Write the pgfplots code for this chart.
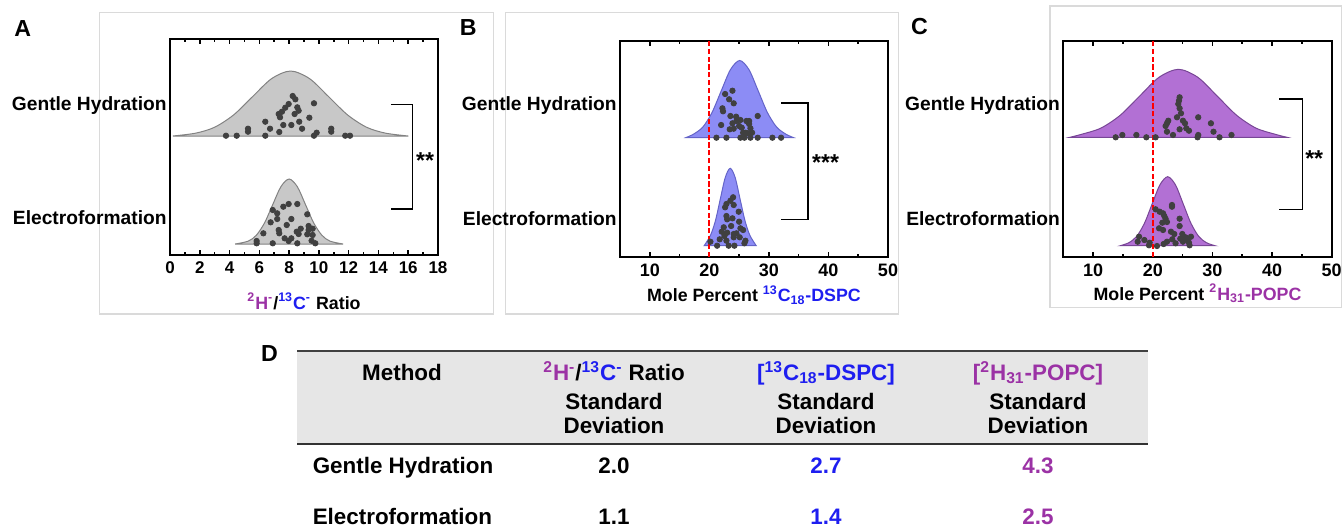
\documentclass[border=0pt]{standalone}
\usepackage{fontspec}
\setmainfont{Liberation Sans}
\usepackage{pgfplots}
\pgfplotsset{compat=1.18}

\definecolor{dotgray}{RGB}{64,64,64}
\definecolor{hpurple}{RGB}{155,50,165}
\definecolor{cblue}{RGB}{30,30,240}
\definecolor{vgray}{RGB}{200,200,200}
\definecolor{vgrayedge}{RGB}{130,130,130}
\definecolor{vblue}{RGB}{140,140,245}
\definecolor{vblueedge}{RGB}{100,100,200}
\definecolor{vpurple}{RGB}{178,112,212}
\definecolor{vpurpleedge}{RGB}{120,70,150}
\definecolor{framegray}{RGB}{218,218,218}
\definecolor{headgray}{RGB}{230,230,230}

\pgfplotsset{
  violinpanel/.style={
    scale only axis, clip=false, anchor=south west,
    ymin=0,
    axis line style={line width=1pt},
    tick style={black, line width=0.8pt},
    major tick length=2.3pt, minor tick length=1.4pt,
    ytick style={draw=none},
    /pgf/number format/assume math mode=true,
    yticklabel style={font=\fontsize{9.6}{11}\selectfont\bfseries, inner sep=1.5pt},
    xticklabel style={font=\fontsize{9}{10}\selectfont\bfseries},
    xlabel style={font=\fontsize{8.9}{10}\selectfont\bfseries,
      at={(axis description cs:0.5,0)}, anchor=center},
  },
  violin/.style={smooth, line width=0.5pt},
  dots/.style={only marks, mark=*, mark size=1.35pt, color=dotgray},
  refline/.style={red, line width=1pt, dash pattern=on 2.6pt off 1.3pt},
}
\tikzset{
  bracket/.style={line width=0.8pt, black},
  stars/.style={font=\fontsize{11.5}{12}\selectfont\bfseries, anchor=base},
  letter/.style={font=\fontsize{11.6}{13}\selectfont\bfseries, anchor=base},
}

\begin{document}
\begin{tikzpicture}
\useasboundingbox (0,0) rectangle (671.5pt,263.5pt);

% panel frames
\draw[framegray, line width=0.6pt] (49.65pt,106.5pt) rectangle (246.65pt,257.15pt);
\draw[framegray, line width=0.6pt] (252.85pt,106.5pt) rectangle (449.15pt,257.15pt);
\draw[framegray, line width=0.6pt] (525pt,109.85pt) rectangle (670.75pt,260.5pt);

% panel letters
\node[letter] at (11.4pt,245.5pt) {A};
\node[letter] at (234.15pt,245.8pt) {B};
\node[letter] at (459.75pt,246.15pt) {C};
\node[letter] at (134.75pt,82.65pt) {D};

% ---------------- A: isotope ratio ----------------
\begin{axis}[violinpanel, at={(85pt,136pt)}, width=134pt, height=108pt,
  xmin=0, xmax=18, ymax=216,
  xtick={0,2,...,18}, minor x tick num=1,
  xticklabel style={font=\fontsize{8.5}{10}\selectfont\bfseries},
  ytick={37.3,149}, yticklabels={Electroformation,Gentle Hydration},
  xlabel={\textcolor{hpurple}{\textsuperscript{2}H\textsuperscript{-}}/\textcolor{cblue}{\textsuperscript{13}C\textsuperscript{-}} Ratio},
  xlabel style={yshift=-23pt}]
\addplot[violin, fill=vgray, draw=vgrayedge] coordinates {
 (0.195,119) (1.725,121.85) (3.0,127.79) (4.275,140.11) (5.55,158.42) (6.825,176.36)
 (8.1,184) (9.375,176.36) (10.65,158.42) (11.925,140.11) (13.2,127.79) (14.475,121.85) (16.005,119)} -- cycle;
\addplot[violin, fill=vgray, draw=vgrayedge] coordinates {
 (4.37,11) (5.25,13.85) (5.8,19.79) (6.35,32.11) (6.9,50.42) (7.45,68.36)
 (8,76) (8.55,68.36) (9.1,50.42) (9.65,32.11) (10.2,19.79) (10.75,13.85) (11.63,11)} -- cycle;
\addplot[dots] coordinates {
 (3.76,119.3) (4.48,119.3) (5.24,126.3) (5.24,123.3) (6.40,133.3) (6.40,119.3) (6.72,126.3)
 (7.34,123) (7.61,130) (8.15,130) (8.68,133.3) (8.87,126.3) (9.36,137.3) (9.67,151.7)
 (9.67,119.3) (9.85,122.3) (10.83,126.3) (10.83,123.3) (11.77,119.3) (12.09,119.3)
 (7.30,141) (7.39,137.7) (7.52,143.3) (7.74,147.3) (7.97,151) (8.24,159) (8.42,155.7)
 (8.55,147.7) (8.64,144.3) (8.37,141)};
\addplot[dots] coordinates {
 (5.82,14) (5.82,11.7) (6.27,21.7) (6.9,11.7) (6.76,32.7) (6.9,45) (7.2,41.7) (7.2,36)
 (7.3,25) (7.34,21.7) (7.61,48.3) (7.7,16.7) (7.84,30) (7.97,51) (7.97,14) (8.15,36)
 (8.15,16.7) (8.51,23.3) (8.55,51) (8.55,11.7) (8.64,21) (8.78,26.3) (9.22,40.7)
 (9.31,29) (9.31,25) (9.58,26.3) (9.58,20) (9.51,14.3) (9.76,11.7) (9.22,20.7)};
\draw[bracket] (axis cs:14.83,150.7) -- (axis cs:16.3,150.7) -- (axis cs:16.3,46) -- (axis cs:14.83,46);
\node[stars] at (axis cs:17.13,86.5) {**};
\end{axis}

% ---------------- B: 13C18-DSPC ----------------
\begin{axis}[violinpanel, at={(310pt,135.15pt)}, width=134pt, height=107.85pt,
  xmin=5, xmax=50, ymax=215.7,
  xtick={10,20,...,50}, minor x tick num=1,
  ytick={38.4,150.7}, yticklabels={Electroformation,Gentle Hydration},
  xlabel={Mole Percent \textcolor{cblue}{\textsuperscript{13}C\textsubscript{18}-DSPC}},
  xlabel style={yshift=-19.15pt}]
\addplot[violin, fill=vblue, draw=vblueedge] coordinates {
 (16.11,119.2) (17.35,122.58) (18.9,129.62) (20.45,144.2) (22.0,165.9) (23.55,187.15)
 (25.1,196.2) (26.65,187.15) (28.2,165.9) (29.75,144.2) (31.3,129.62) (32.85,122.58) (34.09,119.2)} -- cycle;
\addplot[violin, fill=vblue, draw=vblueedge] coordinates {
 (19.13,11) (20.2,21.47) (21.03,36.13) (21.85,57.94) (22.68,79.31)
 (23.5,88.4) (24.33,79.31) (25.15,57.94) (25.98,36.13) (26.8,21.47) (27.87,11)} -- cycle;
\addplot[refline] coordinates {(20,0) (20,215.7)};
\addplot[dots] coordinates {
 (23.88,166) (22.65,162.7) (23.32,157.4) (24.09,153.4) (22.2,148.4) (22.3,145.4)
 (23.54,140.7) (24.5,140) (21.98,131.7) (23.88,133.4) (24.55,135.7) (25.22,136.7)
 (26.22,135.7) (26.68,135.7) (28.12,140.7) (23.42,127.4) (24.09,128) (25.0,130.7)
 (25.44,129) (26.68,132.7) (26.9,128.4) (27.18,124) (25.67,124) (26.1,124) (26.44,123.4)
 (21.19,119) (22.87,119) (25.22,119) (25.89,119) (26.9,119) (28.12,119) (30.59,119) (32.05,119)};
\addplot[dots] coordinates {
 (23.99,59.4) (23.54,56) (22.87,52.7) (22.65,49.4) (24.09,51.7) (24.93,45) (22.87,40.7)
 (22.99,37.4) (23.88,38.4) (25.0,35) (22.42,29.4) (23.66,30.7) (25.22,28.4) (25.67,26.7)
 (22.08,25) (22.99,24) (24.09,22.7) (22.53,20.7) (24.09,19.4) (24.55,23.4) (25.1,19.4)
 (26.06,16) (20.18,15) (21.31,11) (22.87,16) (23.25,11) (24.21,11) (25.89,13.4) (21.74,17.4)};
\draw[bracket] (axis cs:32.05,154) -- (axis cs:36.6,154) -- (axis cs:36.6,37.4) -- (axis cs:32.05,37.4);
\node[stars] at (axis cs:39.53,86.3) {***};
\end{axis}

% ---------------- C: 2H31-POPC ----------------
\begin{axis}[violinpanel, at={(531.65pt,135.15pt)}, width=134.2pt, height=107.85pt,
  xmin=5, xmax=50, ymax=215.7,
  xtick={10,20,...,50}, minor x tick num=1,
  ytick={38.4,150.7}, yticklabels={Electroformation,Gentle Hydration},
  xlabel={Mole Percent \textcolor{hpurple}{\textsuperscript{2}H\textsubscript{31}-POPC}},
  xlabel style={yshift=-18.3pt}]
\addplot[violin, fill=vpurple, draw=vpurpleedge] coordinates {
 (6.1,119.4) (8.05,122.39) (11.3,128.6) (14.55,141.48) (17.8,160.64) (21.05,179.41)
 (24.3,187.4) (27.55,179.41) (30.8,160.64) (34.05,141.48) (37.3,128.6) (40.55,122.39) (42.5,119.4)} -- cycle;
\addplot[violin, fill=vpurple, draw=vpurpleedge] coordinates {
 (14.57,11) (16.0,14.03) (17.3,20.34) (18.6,33.4) (19.9,52.85) (21.2,71.89)
 (22.5,80) (23.8,71.89) (25.1,52.85) (26.4,33.4) (27.7,20.34) (29.0,14.03) (30.43,11)} -- cycle;
\addplot[refline] coordinates {(20,0) (20,215.7)};
\addplot[dots] coordinates {
 (24.5,159.4) (24.39,156) (24.28,152.7) (24.5,148.4) (24.73,143.4) (25.06,136) (24.06,139.4)
 (27.62,139.4) (22.6,136) (22.38,133.4) (25.4,133.4) (29.75,133.4) (22.15,130.7) (24.5,127.4)
 (25.62,128.4) (26.07,126) (22.38,125) (23.39,121.7) (30.18,125) (27.62,121.7) (27.51,119.4)
 (13.78,119.4) (14.9,121.7) (17.25,121.7) (18.92,119.4) (20.48,119.4) (31.19,119.4) (33.2,121.7)};
\addplot[dots] coordinates {
 (23.22,51.7) (23.22,50) (20.48,47.4) (21.15,45) (21.72,43.4) (21.93,40.7) (24.5,38)
 (22.15,38) (21.6,34) (22.38,34.7) (24.5,30.7) (21.05,28.4) (21.72,26.7) (23.05,25)
 (23.61,22.7) (24.95,22.7) (23.27,17.4) (24.61,18) (25.5,19.4) (26.4,20) (25.83,16.7)
 (26.07,14) (26.17,11.4) (22.38,15) (21.82,12.7) (17.7,20) (17.47,15) (18.59,16.7)
 (19.48,14) (19.37,11.4) (20.71,10.7) (23.82,13.4) (25.06,15)};
\draw[bracket] (axis cs:41.2,157.7) -- (axis cs:45.1,157.7) -- (axis cs:45.1,47.4) -- (axis cs:41.2,47.4);
\node[stars] at (axis cs:47.07,90.7) {**};
\end{axis}

% ---------------- D: standard deviations ----------------
\fill[headgray] (148.5pt,41.5pt) rectangle (574pt,88pt);
\draw[black!75, line width=0.8pt] (148.5pt,88pt) -- (574pt,88pt);
\draw[black!80, line width=1.3pt] (148.5pt,41.5pt) -- (574pt,41.5pt);
\begin{scope}[every node/.style={font=\fontsize{11.2}{13}\selectfont\bfseries, anchor=base, inner sep=0pt}]
\node at (201pt,73.35pt) {Method};
\node at (307pt,73.35pt) {\textcolor{hpurple}{\textsuperscript{2}H\textsuperscript{-}}/\textcolor{cblue}{\textsuperscript{13}C\textsuperscript{-}} Ratio};
\node at (307pt,59pt) {Standard};
\node at (307pt,46.65pt) {Deviation};
\node[cblue] at (413pt,73.35pt) {[\textsuperscript{13}C\textsubscript{18}-DSPC]};
\node at (413pt,59pt) {Standard};
\node at (413pt,46.65pt) {Deviation};
\node[hpurple] at (519pt,73.35pt) {[\textsuperscript{2}H\textsubscript{31}-POPC]};
\node at (519pt,59pt) {Standard};
\node at (519pt,46.65pt) {Deviation};
\node[anchor=base west] at (156.2pt,27pt) {Gentle Hydration};
\node at (307pt,27pt) {2.0};
\node[cblue] at (413pt,27pt) {2.7};
\node[hpurple] at (519pt,27pt) {4.3};
\node[anchor=base west] at (156.2pt,1.15pt) {Electroformation};
\node at (307pt,1.15pt) {1.1};
\node[cblue] at (413pt,1.15pt) {1.4};
\node[hpurple] at (519pt,1.15pt) {2.5};
\end{scope}
\end{tikzpicture}
\end{document}
